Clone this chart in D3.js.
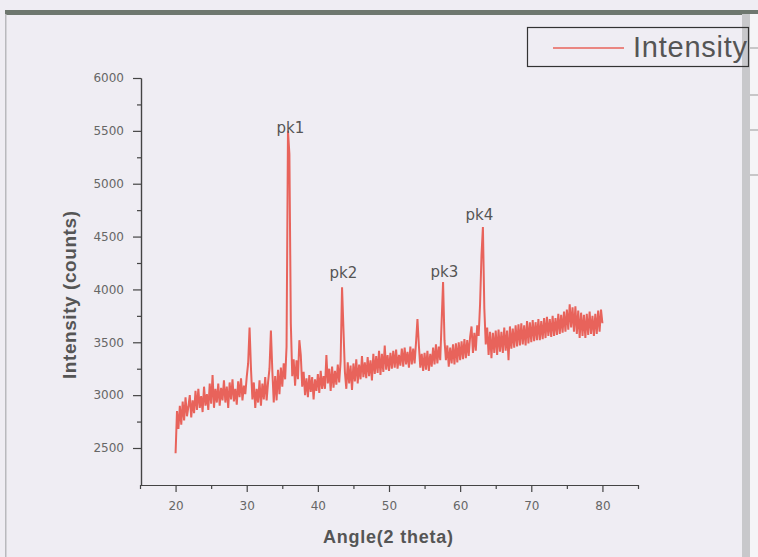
<!DOCTYPE html>
<html>
<head>
<meta charset="utf-8">
<script src="https://cdn.jsdelivr.net/npm/d3@7"></script>
<style>
  html, body { margin: 0; padding: 0; background: #eeedf2; }
  svg { display: block; }
</style>
</head>
<body>
<svg id="chart" width="758" height="557"></svg>
<script>
// XRD scan, 2 theta from 20 to 80 deg, one reading every 0.2 deg
const angleStart = 20;
const angleStep = 0.2;
const intensity = [
  2450, 2850, 2680, 2900, 2720,   // 20
  2940, 2760, 2980, 2800, 2890,   // 21
  3000, 2790, 2950, 2830, 3040,   // 22
  2860, 3060, 2880, 2990, 2840,   // 23
  3080, 2900, 3010, 2860, 3110,   // 24
  2920, 3190, 2880, 3060, 2930,   // 25
  3110, 2900, 3070, 2950, 3140,   // 26
  2930, 3080, 2880, 3120, 2960,   // 27
  3150, 2940, 3060, 2910, 3130,   // 28
  2980, 3160, 2950, 3090, 3010,   // 29
  3170, 3300, 3640, 3250, 2960,   // 30
  3120, 2880, 3060, 2930, 3140,   // 31
  2900, 3110, 2960, 3170, 2950,   // 32
  3120, 3250, 3610, 3230, 2930,   // 33
  3180, 2950, 3240, 3010, 3260,   // 34
  3080, 3300, 3150, 3460, 5500,   // 35
  5280, 3680, 3180, 3340, 3090,   // 36
  3330, 3150, 3520, 3380, 3080,   // 37
  3220, 3000, 3160, 2980, 3190,   // 38
  3030, 3170, 2960, 3150, 3040,   // 39
  3200, 3020, 3230, 3060, 3180,   // 40
  3060, 3380, 3110, 3250, 3040,   // 41
  3270, 3070, 3230, 3100, 3290,   // 42
  3120, 3320, 4020, 3620, 3220,   // 43
  3060, 3310, 3110, 3280, 3050,   // 44
  3300, 3130, 3340, 3110, 3290,   // 45
  3150, 3370, 3170, 3310, 3160,   // 46
  3360, 3180, 3330, 3140, 3390,   // 47
  3200, 3370, 3210, 3420, 3190,   // 48
  3390, 3220, 3470, 3240, 3380,   // 49
  3230, 3400, 3250, 3420, 3260,   // 50
  3430, 3250, 3380, 3280, 3440,   // 51
  3270, 3450, 3290, 3410, 3260,   // 52
  3460, 3290, 3440, 3300, 3500,   // 53
  3720, 3470, 3260, 3390, 3230,   // 54
  3400, 3240, 3420, 3230, 3390,   // 55
  3270, 3450, 3290, 3480, 3300,   // 56
  3460, 3330, 3700, 4070, 3520,   // 57
  3330, 3470, 3270, 3450, 3300,   // 58
  3480, 3290, 3490, 3310, 3500,   // 59
  3330, 3510, 3340, 3530, 3350,   // 60
  3520, 3370, 3550, 3650, 3400,   // 61
  3590, 3420, 3660, 3560, 3860,   // 62
  4320, 4590, 3820, 3480, 3640,   // 63
  3380, 3600, 3350, 3590, 3400,   // 64
  3610, 3380, 3620, 3410, 3600,   // 65
  3400, 3640, 3420, 3610, 3330,   // 66
  3650, 3440, 3630, 3450, 3660,   // 67
  3460, 3670, 3470, 3680, 3480,   // 68
  3660, 3470, 3700, 3490, 3690,   // 69
  3500, 3710, 3510, 3690, 3520,   // 70
  3720, 3520, 3700, 3530, 3730,   // 71
  3540, 3740, 3560, 3720, 3550,   // 72
  3750, 3560, 3730, 3570, 3770,   // 73
  3580, 3760, 3590, 3790, 3600,   // 74
  3810, 3620, 3860, 3640, 3830,   // 75
  3600, 3840, 3580, 3800, 3540,   // 76
  3780, 3560, 3760, 3540, 3770,   // 77
  3570, 3790, 3580, 3750, 3560,   // 78
  3770, 3580, 3800, 3600, 3810,   // 79
  3680                            // 80
];

const xTicks = [20, 30, 40, 50, 60, 70, 80];
const xMinorTicks = [15, 25, 35, 45, 55, 65, 75, 85];
const yTicks = [2500, 3000, 3500, 4000, 4500, 5000, 5500, 6000];
const yMinorTicks = [2750, 3250, 3750, 4250, 4750, 5250, 5750];

const peakNames = ["pk1", "pk2", "pk3", "pk4"];
const peakAngles = [36.15, 43.6, 57.8, 62.7];
const peakLabelValues = [5480, 4108, 4117, 4657];

const lineColor = "#e8635b";
const inkColor = "#555";

const svg = d3.select("#chart");

// scanned page look: background, frame bars
svg.append("rect").attr("width", 758).attr("height", 557).attr("fill", "#efedf3");
svg.append("rect").attr("x", 5).attr("y", 10).attr("width", 753).attr("height", 5).attr("fill", "#6e776f");
svg.append("rect").attr("x", 5).attr("y", 14).attr("width", 1.5).attr("height", 543).attr("fill", "#b9b9bd");
svg.append("rect").attr("x", 742).attr("y", 14).attr("width", 8).attr("height", 543).attr("fill", "#c8c8cb");
svg.append("rect").attr("x", 750).attr("y", 14).attr("width", 8).attr("height", 543).attr("fill", "#f5f5f7");
[48, 95, 130, 175].forEach(yy => {
  svg.append("line").attr("x1", 750).attr("x2", 758).attr("y1", yy).attr("y2", yy)
    .attr("stroke", "#999").attr("stroke-width", 1);
});

const x = d3.scaleLinear().domain([15, 85]).range([140, 638]);
const y = d3.scaleLinear().domain([2150, 6000]).range([485, 78]);

const data = intensity.map((v, i) => ({ a: angleStart + i * angleStep, v: v }));

// trace
svg.append("path")
  .datum(data)
  .attr("fill", "none")
  .attr("stroke", lineColor)
  .attr("stroke-width", 2)
  .attr("stroke-linejoin", "miter")
  .attr("d", d3.line().x(d => x(d.a)).y(d => y(d.v)));

// axes
function styleAxis(g) {
  g.selectAll(".domain").attr("stroke", "#444").attr("stroke-width", 1.2);
  g.selectAll(".tick line").attr("stroke", "#444").attr("stroke-width", 1.2);
  g.selectAll(".tick text")
    .attr("fill", "#666")
    .style("font-family", "'DejaVu Sans', sans-serif")
    .style("font-size", "12px");
}

svg.append("g")
  .attr("transform", "translate(0,485)")
  .call(d3.axisBottom(x).tickValues(xMinorTicks).tickSize(4).tickSizeOuter(0).tickFormat(""))
  .call(styleAxis);
svg.append("g")
  .attr("transform", "translate(0,485)")
  .call(d3.axisBottom(x).tickValues(xTicks).tickSize(7).tickSizeOuter(0).tickPadding(9)
    .tickFormat(d3.format("d")))
  .call(styleAxis);

svg.append("g")
  .attr("transform", "translate(141,0)")
  .call(d3.axisLeft(y).tickValues(yMinorTicks).tickSize(4).tickSizeOuter(0).tickFormat(""))
  .call(styleAxis);
svg.append("g")
  .attr("transform", "translate(141,0)")
  .call(d3.axisLeft(y).tickValues(yTicks).tickSize(8).tickSizeOuter(0).tickPadding(9)
    .tickFormat(d3.format("d")))
  .call(styleAxis);

// axis titles
svg.append("text")
  .attr("transform", "translate(76,295) rotate(-90)")
  .attr("text-anchor", "middle")
  .attr("fill", inkColor)
  .attr("textLength", 168)
  .attr("lengthAdjust", "spacing")
  .style("font-family", "'Liberation Sans', Arial, sans-serif")
  .style("font-weight", "bold")
  .style("font-size", "19px")
  .text("Intensity (counts)");

svg.append("text")
  .attr("x", 388).attr("y", 543)
  .attr("text-anchor", "middle")
  .attr("fill", inkColor)
  .attr("textLength", 130)
  .attr("lengthAdjust", "spacing")
  .style("font-family", "'Liberation Sans', Arial, sans-serif")
  .style("font-weight", "bold")
  .style("font-size", "18px")
  .text("Angle(2 theta)");

// peak labels
svg.append("g")
  .selectAll("text")
  .data(peakNames)
  .join("text")
  .attr("x", (d, i) => x(peakAngles[i]))
  .attr("y", (d, i) => y(peakLabelValues[i]))
  .attr("text-anchor", "middle")
  .attr("fill", inkColor)
  .style("font-family", "'DejaVu Sans', sans-serif")
  .style("font-size", "15px")
  .text(d => d);

// legend
const legend = svg.append("g");
legend.append("rect")
  .attr("x", 527.5).attr("y", 27.5).attr("width", 221).attr("height", 39)
  .attr("fill", "none").attr("stroke", "#333").attr("stroke-width", 1.2);
legend.append("line")
  .attr("x1", 553).attr("x2", 624).attr("y1", 48).attr("y2", 48)
  .attr("stroke", lineColor).attr("stroke-width", 1.3);
legend.append("text")
  .attr("x", 633).attr("y", 57)
  .attr("fill", inkColor)
  .attr("textLength", 114)
  .attr("lengthAdjust", "spacing")
  .style("font-family", "'Liberation Sans', Arial, sans-serif")
  .style("font-size", "29px")
  .text("Intensity");
</script>
</body>
</html>
